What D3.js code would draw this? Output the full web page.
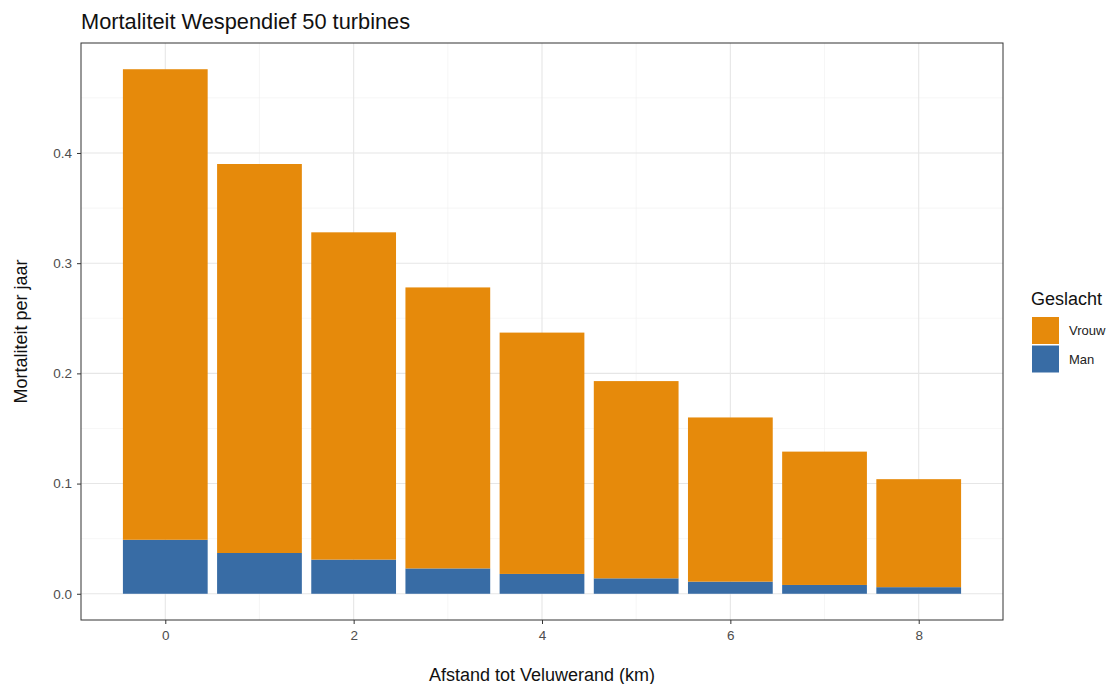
<!DOCTYPE html>
<html><head><meta charset="utf-8">
<script src="https://cdn.jsdelivr.net/npm/d3@7"></script>
<style>body{margin:0;background:#fff;} text{font-family:"Liberation Sans",Arial,sans-serif;}</style>
</head><body>
<svg id="c" width="1114" height="684"></svg>
<script>
const distances = [0,1,2,3,4,5,6,7,8];
const totals = [0.476,0.390,0.328,0.278,0.237,0.193,0.160,0.129,0.104];
const man = [0.049,0.037,0.031,0.023,0.018,0.014,0.011,0.008,0.006];
const vrouw = totals.map((t,i)=>+(t-man[i]).toFixed(3));
const seriesNames = ["Man","Vrouw"];
const legendOrder = ["Vrouw","Man"];
const colors = {Vrouw:"#E68A0B", Man:"#386CA5"};
const xTicks = [0,2,4,6,8];
const yTicks = [0.0,0.1,0.2,0.3,0.4];

const svg = d3.select("#c");
const L=81, R=1003, T=43, B=620;
const x = d3.scaleLinear().domain([-0.895,8.895]).range([L,R]);
const y = d3.scaleLinear().domain([-0.0238,0.4998]).range([B,T]);

// panel background grid
const g = svg.append("g");
[1,3,5,7].forEach(v=>g.append("line").attr("x1",x(v)).attr("x2",x(v)).attr("y1",T).attr("y2",B).attr("stroke","#f0f0f0").attr("stroke-width",0.6));
[0.05,0.15,0.25,0.35,0.45].forEach(v=>g.append("line").attr("y1",y(v)).attr("y2",y(v)).attr("x1",L).attr("x2",R).attr("stroke","#f0f0f0").attr("stroke-width",0.6));
xTicks.forEach(v=>g.append("line").attr("x1",x(v)).attr("x2",x(v)).attr("y1",T).attr("y2",B).attr("stroke","#e6e6e6").attr("stroke-width",1.1));
yTicks.forEach(v=>g.append("line").attr("y1",y(v)).attr("y2",y(v)).attr("x1",L).attr("x2",R).attr("stroke","#e6e6e6").attr("stroke-width",1.1));

// stacked bars
const rows = distances.map((d,i)=>({d, Man:man[i], Vrouw:vrouw[i]}));
const stack = d3.stack().keys(seriesNames)(rows);
const bw = 0.9;
svg.append("g").selectAll("g").data(stack).join("g").attr("fill",s=>colors[s.key])
  .selectAll("rect").data(s=>s).join("rect")
  .attr("x",p=>x(p.data.d-bw/2)).attr("width",p=>x(p.data.d+bw/2)-x(p.data.d-bw/2))
  .attr("y",p=>y(p[1])).attr("height",p=>y(p[0])-y(p[1]));

// border
svg.append("rect").attr("x",L).attr("y",T).attr("width",R-L).attr("height",B-T).attr("fill","none").attr("stroke","#333").attr("stroke-width",1);

// axes
const xa = svg.append("g").attr("transform",`translate(0,${B})`).call(d3.axisBottom(x).tickValues(xTicks).tickSize(4).tickPadding(6).tickFormat(d3.format("d")));
const ya = svg.append("g").attr("transform",`translate(${L},0)`).call(d3.axisLeft(y).tickValues(yTicks).tickSize(4).tickPadding(5).tickFormat(d3.format(".1f")));
[xa,ya].forEach(a=>{a.select(".domain").remove();a.selectAll("line").attr("stroke","#333");a.selectAll("text").attr("fill","#4d4d4d").style("font-size","13.5px").style("font-family","Liberation Sans, Arial, sans-serif");});

// titles
svg.append("text").attr("x",L).attr("y",29).text("Mortaliteit Wespendief 50 turbines").style("font-size","21.8px").attr("fill","#111");
svg.append("text").attr("x",(L+R)/2).attr("y",681).attr("text-anchor","middle").text("Afstand tot Veluwerand (km)").style("font-size","18px").attr("fill","#111");
svg.append("text").attr("transform",`translate(27,${(T+B)/2}) rotate(-90)`).attr("text-anchor","middle").text("Mortaliteit per jaar").style("font-size","18px").attr("fill","#111");

// legend
svg.append("text").attr("x",1031).attr("y",305).text("Geslacht").style("font-size","18px").attr("fill","#111");
legendOrder.forEach((k,i)=>{
  svg.append("rect").attr("x",1032).attr("y",317+i*28.5).attr("width",27).attr("height",27).attr("fill",colors[k]);
  svg.append("text").attr("x",1069).attr("y",335+i*28.5).text(k).style("font-size","13px").attr("fill","#222");
});
</script>
</body></html>
